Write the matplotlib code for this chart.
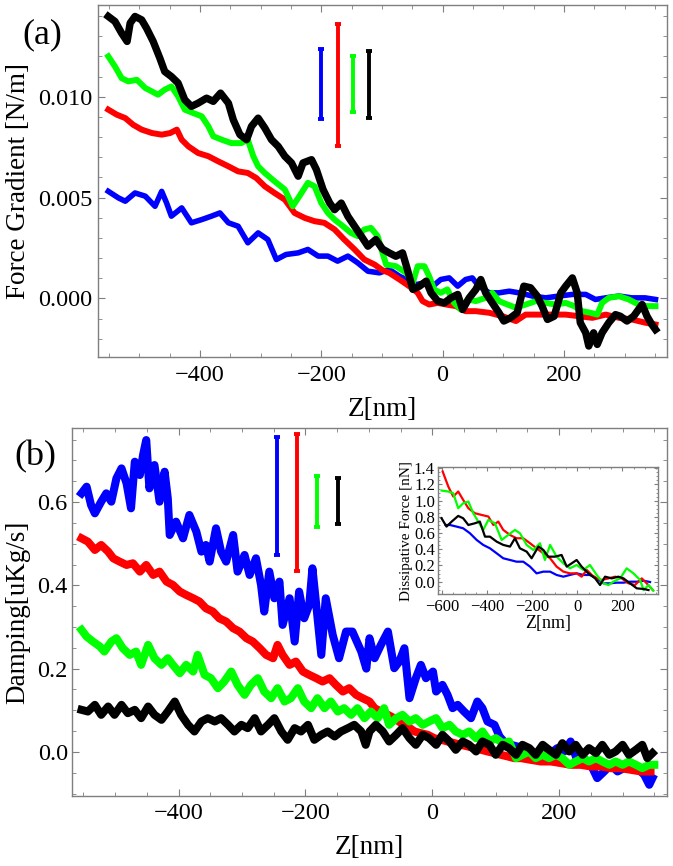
import matplotlib
matplotlib.use("Agg")
import matplotlib.pyplot as plt
from matplotlib.ticker import MultipleLocator, FormatStrFormatter

plt.rcParams['font.family'] = ['Liberation Serif', 'DejaVu Serif']
plt.rcParams['axes.unicode_minus'] = True

# ---------------- Panel (a): Force gradient ----------------
za_black = [-551,-540,-529,-520,-515,-507,-496,-488,-477,-466,-458,-447,-436,-425,-414,-403,-389,-378,-366,-353,
            -345,-334,-323,-315,-304,-293,-282,-271,-260,-249,-238,-230,-216,-208,-197,-186,-178,-167,-156,-145,
            -134,-123,-110,-99,-88,-77,-66,-58,-49,-38,-27,-19,-8,3,14,25,33,44,55,63,
            71,82,93,101,112,123,134,145,156,164,173,184,195,203,214,222,227,236,241,249,
            255,263,274,285,293,304,315,329,337,345,351]
fg_black = [0.01398,0.01373,0.01315,0.01274,0.01365,0.01398,0.01381,0.0134,0.01274,0.01191,0.01125,0.0110,0.01068,0.00985,0.00952,0.00968,0.00993,0.00977,0.01018,0.00968,
            0.00886,0.00812,0.00787,0.00853,0.00894,0.00845,0.00787,0.00754,0.00705,0.00672,0.00606,0.00672,0.00688,0.00639,0.0054,0.00473,0.0044,0.00473,0.00407,0.00358,
            0.00309,0.00259,0.00292,0.00245,0.00226,0.00209,0.00226,0.00144,0.00045,0.00061,0.00086,0.00028,-0.00013,-0.00022,0.00003,0.0002,-0.00055,0.00003,0.00045,0.00094,
            0.00028,-0.00022,-0.00071,-0.00112,-0.00096,-0.00071,0.00061,0.00053,0.00012,-0.00038,-0.00104,-0.00088,0.00028,0.00061,0.00102,0.00028,-0.0012,-0.0017,-0.00236,-0.0017,
            -0.00228,-0.0017,-0.0012,-0.0008,-0.00088,-0.00112,-0.00088,-0.0003,-0.00088,-0.00129,-0.00154]

za_green = [-551,-540,-529,-518,-504,-490,-479,-469,-458,-447,-436,-425,-411,-397,-386,-378,-364,-348,-332,-321,
            -312,-304,-293,-277,-260,-247,-236,-222,-211,-200,-189,-178,-164,-151,-140,-129,-118,-107,-99,-93,
            -77,-60,-49,-41,-30,-22,-14,-3,8,19,30,41,55,71,82,93,107,121,137,154,
            170,186,203,217,230,244,255,263,274,291,307,323,337,351]
fg_green = [0.0120,0.0115,0.01092,0.01076,0.01084,0.01043,0.01026,0.0101,0.01035,0.01051,0.01002,0.00936,0.00919,0.00903,0.00853,0.00804,0.00787,0.0077,0.0077,0.00787,
            0.00705,0.00655,0.00622,0.00581,0.0054,0.00457,0.00507,0.00573,0.00556,0.00474,0.00424,0.00391,0.00358,0.00325,0.00309,0.00342,0.0035,0.00309,0.00226,0.00168,
            0.0016,0.00127,0.00078,0.0016,0.0016,0.0011,0.00045,0.00028,0.00045,-0.00022,-0.00055,-0.00005,-0.00013,0.00003,0.00028,-0.00013,-0.0003,-0.00046,-0.0003,-0.00013,
            -0.00022,-0.0003,-0.00022,-0.00038,-0.00063,-0.00071,-0.0008,-0.00022,0.00003,0.00011,-0.00005,-0.0003,-0.00038,-0.00038]

za_red = [-551,-537,-523,-510,-496,-479,-463,-449,-438,-430,-419,-403,-386,-370,-353,-337,-321,-307,-293,-277,
          -260,-244,-227,-211,-195,-178,-162,-145,-129,-112,-99,-88,-71,-55,-41,-33,-22,-8,6,22,
          38,55,77,99,121,137,159,181,203,225,247,269,291,312,334,351]
fg_red = [0.00936,0.00911,0.00894,0.00861,0.00837,0.0082,0.00812,0.0082,0.00837,0.00787,0.00754,0.00721,0.00705,0.0068,0.00655,0.0063,0.00622,0.00597,0.00556,0.00523,
          0.0049,0.00424,0.00399,0.00383,0.00375,0.00342,0.00292,0.00243,0.00193,0.00168,0.0014,0.00127,0.00094,0.00061,0.00028,-0.00013,-0.0003,-0.00022,-0.0003,-0.00038,
          -0.00063,-0.00063,-0.00071,-0.00088,-0.00112,-0.0008,-0.0008,-0.0008,-0.0008,-0.00088,-0.00096,-0.0008,-0.00096,-0.00104,-0.0012,-0.00129]

za_blue = [-551,-534,-523,-507,-490,-474,-463,-455,-447,-430,-414,-397,-381,-367,-353,-337,-321,-304,-288,-274,
           -258,-238,-222,-205,-189,-173,-156,-140,-123,-104,-88,-71,-60,-44,-27,-16,-3,11,25,38,
           49,60,77,93,110,126,148,170,192,214,236,252,269,291,312,334,351]
fg_blue = [0.00531,0.00498,0.00482,0.00523,0.00507,0.00457,0.00531,0.00474,0.00408,0.00449,0.00375,0.00391,0.00408,0.00424,0.00375,0.00358,0.00276,0.00325,0.00292,0.00193,
           0.00218,0.00226,0.00243,0.0021,0.0021,0.00185,0.0021,0.00177,0.00135,0.00127,0.00144,0.0011,0.00094,0.00069,0.00078,0.00061,0.00094,0.00102,0.00061,0.00094,
           0.00102,0.00061,0.00028,0.00028,0.00036,0.00028,0.00012,0.00003,0.00012,0.0002,0.0002,-0.00005,0.00003,0.00012,0.00003,0.00003,-0.00005]

# scale (error) bars in panel (a): position, centre, half length
bars_a_z = [-200, -173, -148, -122]
bars_a_c = [0.010625, 0.010575, 0.010625, 0.010615]
bars_a_h = [0.001735, 0.003035, 0.001405, 0.001675]

# ---------------- Panel (b): Damping ----------------
zb_blue = [-553,-545,-538,-532,-522,-514,-506,-498,-490,-482,-475,-469,-461,-456,-451,-446,-438,-430,-422,-417,
           -414,-404,-393,-383,-372,-364,-357,-351,-341,-333,-325,-314,-307,-296,-288,-278,-270,-265,-257,-249,
           -241,-236,-225,-217,-210,-202,-194,-189,-183,-175,-168,-157,-147,-136,-126,-112,-104,-99,-91,-81,
           -70,-60,-52,-44,-36,-26,-18,-10,1,6,16,24,32,40,50,61,71,79,87,98,
           106,113,124,134,145,155,166,176,187,197,208,218,229,239,250,260,271,281,292,302,
           313,323,334,342,347]
dm_blue = [0.621,0.637,0.593,0.573,0.601,0.621,0.601,0.657,0.681,0.645,0.585,0.697,0.665,0.713,0.749,0.633,0.689,0.601,0.673,0.609,
           0.521,0.553,0.513,0.569,0.529,0.481,0.497,0.457,0.537,0.481,0.457,0.521,0.433,0.473,0.425,0.465,0.401,0.337,0.433,0.369,
           0.409,0.305,0.369,0.265,0.385,0.321,0.353,0.441,0.353,0.233,0.369,0.281,0.225,0.289,0.289,0.241,0.20,0.273,0.225,0.257,
           0.289,0.201,0.217,0.249,0.129,0.177,0.209,0.177,0.193,0.145,0.161,0.137,0.105,0.113,0.097,0.081,0.121,0.105,0.073,0.065,
           0.037,0.025,0.017,0.013,0.005,-0.007,-0.015,-0.007,-0.003,0.009,0.001,0.025,-0.023,-0.015,-0.031,-0.063,-0.047,-0.031,-0.047,-0.039,
           -0.039,-0.039,-0.055,-0.079,-0.063]

zb_red = [-553,-543,-532,-522,-511,-503,-493,-482,-472,-461,-451,-440,-430,-419,-409,-398,-388,-377,-367,-357,
          -346,-336,-325,-314,-304,-293,-283,-272,-262,-251,-244,-236,-225,-215,-204,-194,-183,-173,-162,-152,
          -141,-131,-120,-110,-99,-91,-81,-70,-60,-49,-39,-28,-18,-7,3,14,24,35,45,56,
          66,77,87,98,108,119,129,140,155,171,187,203,218,234,250,266,281,297,313,329,344]
dm_red = [0.513,0.505,0.485,0.497,0.481,0.465,0.457,0.449,0.453,0.433,0.449,0.425,0.433,0.409,0.401,0.385,0.377,0.369,0.361,0.345,
          0.337,0.321,0.313,0.297,0.289,0.273,0.265,0.249,0.233,0.225,0.257,0.233,0.209,0.217,0.193,0.185,0.177,0.169,0.177,0.161,
          0.145,0.153,0.137,0.129,0.121,0.105,0.097,0.089,0.081,0.069,0.061,0.049,0.045,0.041,0.033,0.029,0.025,0.021,0.017,0.013,
          0.009,0.005,0.001,-0.003,-0.007,-0.011,-0.015,-0.015,-0.019,-0.023,-0.023,-0.027,-0.031,-0.031,-0.035,-0.035,-0.039,-0.039,-0.043,-0.047,-0.047]

zb_green = [-553,-545,-535,-524,-517,-506,-498,-488,-477,-467,-459,-448,-438,-427,-417,-409,-398,-388,-377,-370,
            -359,-349,-338,-328,-317,-307,-296,-286,-275,-265,-254,-244,-233,-223,-212,-202,-191,-181,-170,-160,
            -149,-139,-128,-118,-107,-97,-86,-76,-68,-57,-47,-36,-26,-15,-5,6,16,27,37,48,
            58,69,79,90,100,111,121,132,142,153,163,174,184,195,205,216,226,237,247,258,
            268,279,289,300,310,321,331,342,350]
dm_green = [0.293,0.277,0.265,0.253,0.241,0.265,0.273,0.249,0.233,0.241,0.209,0.257,0.225,0.209,0.225,0.209,0.189,0.209,0.193,0.233,
            0.185,0.177,0.153,0.169,0.193,0.161,0.137,0.161,0.177,0.145,0.129,0.153,0.121,0.129,0.153,0.121,0.105,0.129,0.105,0.121,
            0.097,0.105,0.089,0.105,0.081,0.097,0.081,0.105,0.065,0.081,0.089,0.073,0.081,0.065,0.073,0.081,0.057,0.065,0.049,0.041,
            0.049,0.033,0.049,0.025,0.033,0.021,0.025,-0.015,-0.007,0.001,-0.015,-0.007,-0.015,-0.007,-0.015,-0.031,-0.023,-0.015,-0.023,-0.015,
            -0.023,-0.031,-0.023,-0.031,-0.023,-0.031,-0.039,-0.031,-0.031]

zb_black = [-553,-543,-532,-522,-511,-501,-490,-480,-469,-459,-448,-438,-427,-417,-406,-396,-385,-375,-364,-354,
            -343,-333,-322,-312,-301,-291,-280,-270,-259,-249,-238,-228,-217,-207,-196,-186,-175,-165,-154,-144,
            -133,-123,-112,-105,-99,-89,-78,-68,-57,-47,-36,-26,-15,-5,6,16,27,37,48,58,
            69,79,90,100,111,121,132,142,153,163,174,184,195,205,216,226,237,247,258,268,
            279,289,300,310,321,331,339,347]
dm_black = [0.101,0.097,0.113,0.089,0.109,0.089,0.113,0.093,0.101,0.081,0.109,0.089,0.077,0.097,0.121,0.089,0.065,0.049,0.073,0.081,
            0.073,0.081,0.065,0.049,0.065,0.057,0.081,0.049,0.065,0.081,0.049,0.029,0.057,0.049,0.065,0.029,0.041,0.049,0.037,0.049,
            0.057,0.065,0.049,0.017,0.049,0.065,0.049,0.025,0.041,0.057,0.033,0.017,0.041,0.033,0.017,0.041,0.025,0.005,0.025,0.017,
            0.001,0.025,0.017,-0.007,0.017,0.009,-0.007,0.017,0.009,-0.007,0.017,0.005,-0.007,0.021,0.001,0.017,-0.007,0.009,-0.003,0.017,
            -0.007,0.001,0.017,-0.007,0.005,0.017,-0.015,-0.003]

bars_b_z = [-245, -214, -181, -148]
bars_b_c = [0.615, 0.599, 0.602, 0.603]
bars_b_h = [0.142, 0.164, 0.061, 0.056]

# ---------------- Inset: Dissipative force ----------------
zi_red = [-598,-573,-551,-529,-507,-484,-455,-425,-395,-373,-351,-329,-299,-270,-240,-210,-181,-151,-121,-92,
          -62,-33,-3,19,42,64,86,108,138,168,197,227,256,286,308,335]
df_red = [1.36,1.174,1.051,1.113,1.01,0.907,0.845,0.824,0.804,0.70,0.742,0.639,0.577,0.536,0.536,0.474,0.412,0.35,0.289,0.186,
          0.124,0.103,0.103,0.062,0.144,0.083,0.041,0.021,0.041,0.062,0.041,-0.02,-0.041,0.041,-0.02,-0.103]
zi_green = [-603,-573,-551,-529,-507,-484,-462,-440,-418,-395,-366,-336,-307,-277,-255,-225,-195,-166,-144,-121,
            -92,-62,-33,-3,27,56,86,116,138,160,190,219,249,279,294,316,338]
df_green = [1.125,1.113,1.092,0.907,0.968,0.989,0.845,0.742,0.639,0.763,0.721,0.515,0.577,0.639,0.598,0.454,0.391,0.474,0.268,0.454,
            0.309,0.227,0.165,0.206,0.144,0.206,0.083,-0.02,-0.041,0.0,0.041,0.165,0.103,0.021,-0.103,-0.041,-0.111]
zi_black = [-603,-581,-558,-529,-507,-484,-455,-433,-410,-388,-358,-329,-299,-277,-255,-225,-203,-173,-151,-129,
            -99,-70,-47,-25,-3,19,49,79,101,123,153,182,205,234,264,294,316]
df_black = [0.783,0.68,0.742,0.812,0.783,0.70,0.721,0.742,0.556,0.556,0.494,0.454,0.433,0.536,0.412,0.371,0.289,0.433,0.392,0.309,
            0.309,0.33,0.186,0.227,0.268,0.186,0.103,0.041,-0.041,0.062,0.041,0.062,0.041,-0.02,-0.082,-0.09,-0.103]
zi_blue = [-585,-566,-536,-507,-477,-447,-418,-388,-358,-329,-299,-270,-240,-210,-181,-151,-121,-92,-62,-33,
           -3,27,56,86,116,145,175,205,234,264,294,323]
df_blue = [0.70,0.70,0.68,0.659,0.598,0.515,0.454,0.412,0.35,0.289,0.268,0.247,0.247,0.186,0.103,0.124,0.124,0.083,0.062,0.083,
           0.103,0.083,0.083,0.041,-0.02,-0.02,-0.012,-0.012,0.0,0.0,0.012,-0.004]

BLUE, RED, GREEN, BLACK = '#0000ff', '#ff0000', '#00ff00', '#000000'
bar_colors = [BLUE, RED, GREEN, BLACK]
FRAME = '#7f7f7f'


def style(ax, fs, mlen, nlen):
    for s in ax.spines.values():
        s.set_color(FRAME)
        s.set_linewidth(1.0)
    ax.tick_params(which='both', direction='in', top=True, right=True,
                   color=FRAME, labelcolor='black', labelsize=fs)
    ax.tick_params(which='major', length=mlen, width=0.8)
    ax.tick_params(which='minor', length=nlen, width=0.6)


fig = plt.figure(figsize=(6.73, 8.66), dpi=100)

# ----- (a) -----
axa = fig.add_axes([0.1456, 0.5878, 0.8455, 0.4065])
axa.plot(za_blue, fg_blue, color=BLUE, lw=4.0)
axa.plot(za_red, fg_red, color=RED, lw=4.3)
axa.plot(za_green, fg_green, color=GREEN, lw=4.3)
axa.plot(za_black, fg_black, color=BLACK, lw=5.3)
for z, c, h, col in zip(bars_a_z, bars_a_c, bars_a_h, bar_colors):
    axa.errorbar([z], [c], yerr=[h], fmt='none', ecolor=col, elinewidth=2.8,
                 capsize=2.5, capthick=2.8)
axa.set_xlim(-568, 370)
axa.set_ylim(-0.0029, 0.01455)
axa.xaxis.set_major_locator(MultipleLocator(200))
axa.xaxis.set_minor_locator(MultipleLocator(50))
axa.yaxis.set_major_locator(MultipleLocator(0.005))
axa.yaxis.set_minor_locator(MultipleLocator(0.001))
axa.yaxis.set_major_formatter(FormatStrFormatter('%.3f'))
style(axa, 17.5, 5, 3)
axa.tick_params(axis='y', pad=4)
axa.tick_params(axis='x', pad=5.5)
axa.set_xlabel('Z[nm]', fontsize=19.5, labelpad=8)
axa.set_ylabel('Force Gradient [N/m]', fontsize=19.5, labelpad=5)
fig.text(42 / 673, 1 - 35 / 866, '(a)', fontsize=26, ha='center', va='center')

# ----- (b) -----
axb = fig.add_axes([0.107, 0.0808, 0.8841, 0.425])
axb.plot(zb_blue, dm_blue, color=BLUE, lw=5.8)
axb.plot(zb_red, dm_red, color=RED, lw=5.8)
axb.plot(zb_green, dm_green, color=GREEN, lw=5.8)
axb.plot(zb_black, dm_black, color=BLACK, lw=5.8)
for z, c, h, col in zip(bars_b_z, bars_b_c, bars_b_h, bar_colors):
    axb.errorbar([z], [c], yerr=[h], fmt='none', ecolor=col, elinewidth=2.8,
                 capsize=2.5, capthick=2.8)
axb.set_xlim(-568, 370)
axb.set_ylim(-0.106, 0.778)
axb.xaxis.set_major_locator(MultipleLocator(200))
axb.xaxis.set_minor_locator(MultipleLocator(50))
axb.yaxis.set_major_locator(MultipleLocator(0.2))
axb.yaxis.set_minor_locator(MultipleLocator(0.05))
axb.yaxis.set_major_formatter(FormatStrFormatter('%.1f'))
style(axb, 17.5, 5, 3)
axb.tick_params(axis='y', pad=3)
axb.tick_params(axis='x', pad=5)
axb.set_xlabel('Z[nm]', fontsize=19.5, labelpad=8)
axb.set_ylabel('Damping[uKg/s]', fontsize=19.5, labelpad=5)
fig.text(35 / 673, 1 - 457 / 866, '(b)', fontsize=26, ha='center', va='center')

# ----- inset -----
axi = fig.add_axes([0.6504, 0.3137, 0.3269, 0.1467])
axi.plot(zi_blue, df_blue, color=BLUE, lw=1.6)
axi.plot(zi_red, df_red, color=RED, lw=1.6)
axi.plot(zi_green, df_green, color=GREEN, lw=1.6)
axi.plot(zi_black, df_black, color=BLACK, lw=1.6)
axi.set_xlim(-620, 357)
axi.set_ylim(-0.156, 1.412)
axi.xaxis.set_major_locator(MultipleLocator(200))
axi.xaxis.set_minor_locator(MultipleLocator(50))
axi.yaxis.set_major_locator(MultipleLocator(0.2))
axi.yaxis.set_minor_locator(MultipleLocator(0.05))
axi.yaxis.set_major_formatter(FormatStrFormatter('%.1f'))
style(axi, 12, 3, 1.5)
axi.tick_params(axis='y', pad=2)
axi.tick_params(axis='x', pad=3)
axi.set_xlabel('Z[nm]', fontsize=13, labelpad=0)
axi.set_ylabel('Dissipative Force [nN]', fontsize=11, labelpad=1)

fig.savefig('out.png', dpi=100)
